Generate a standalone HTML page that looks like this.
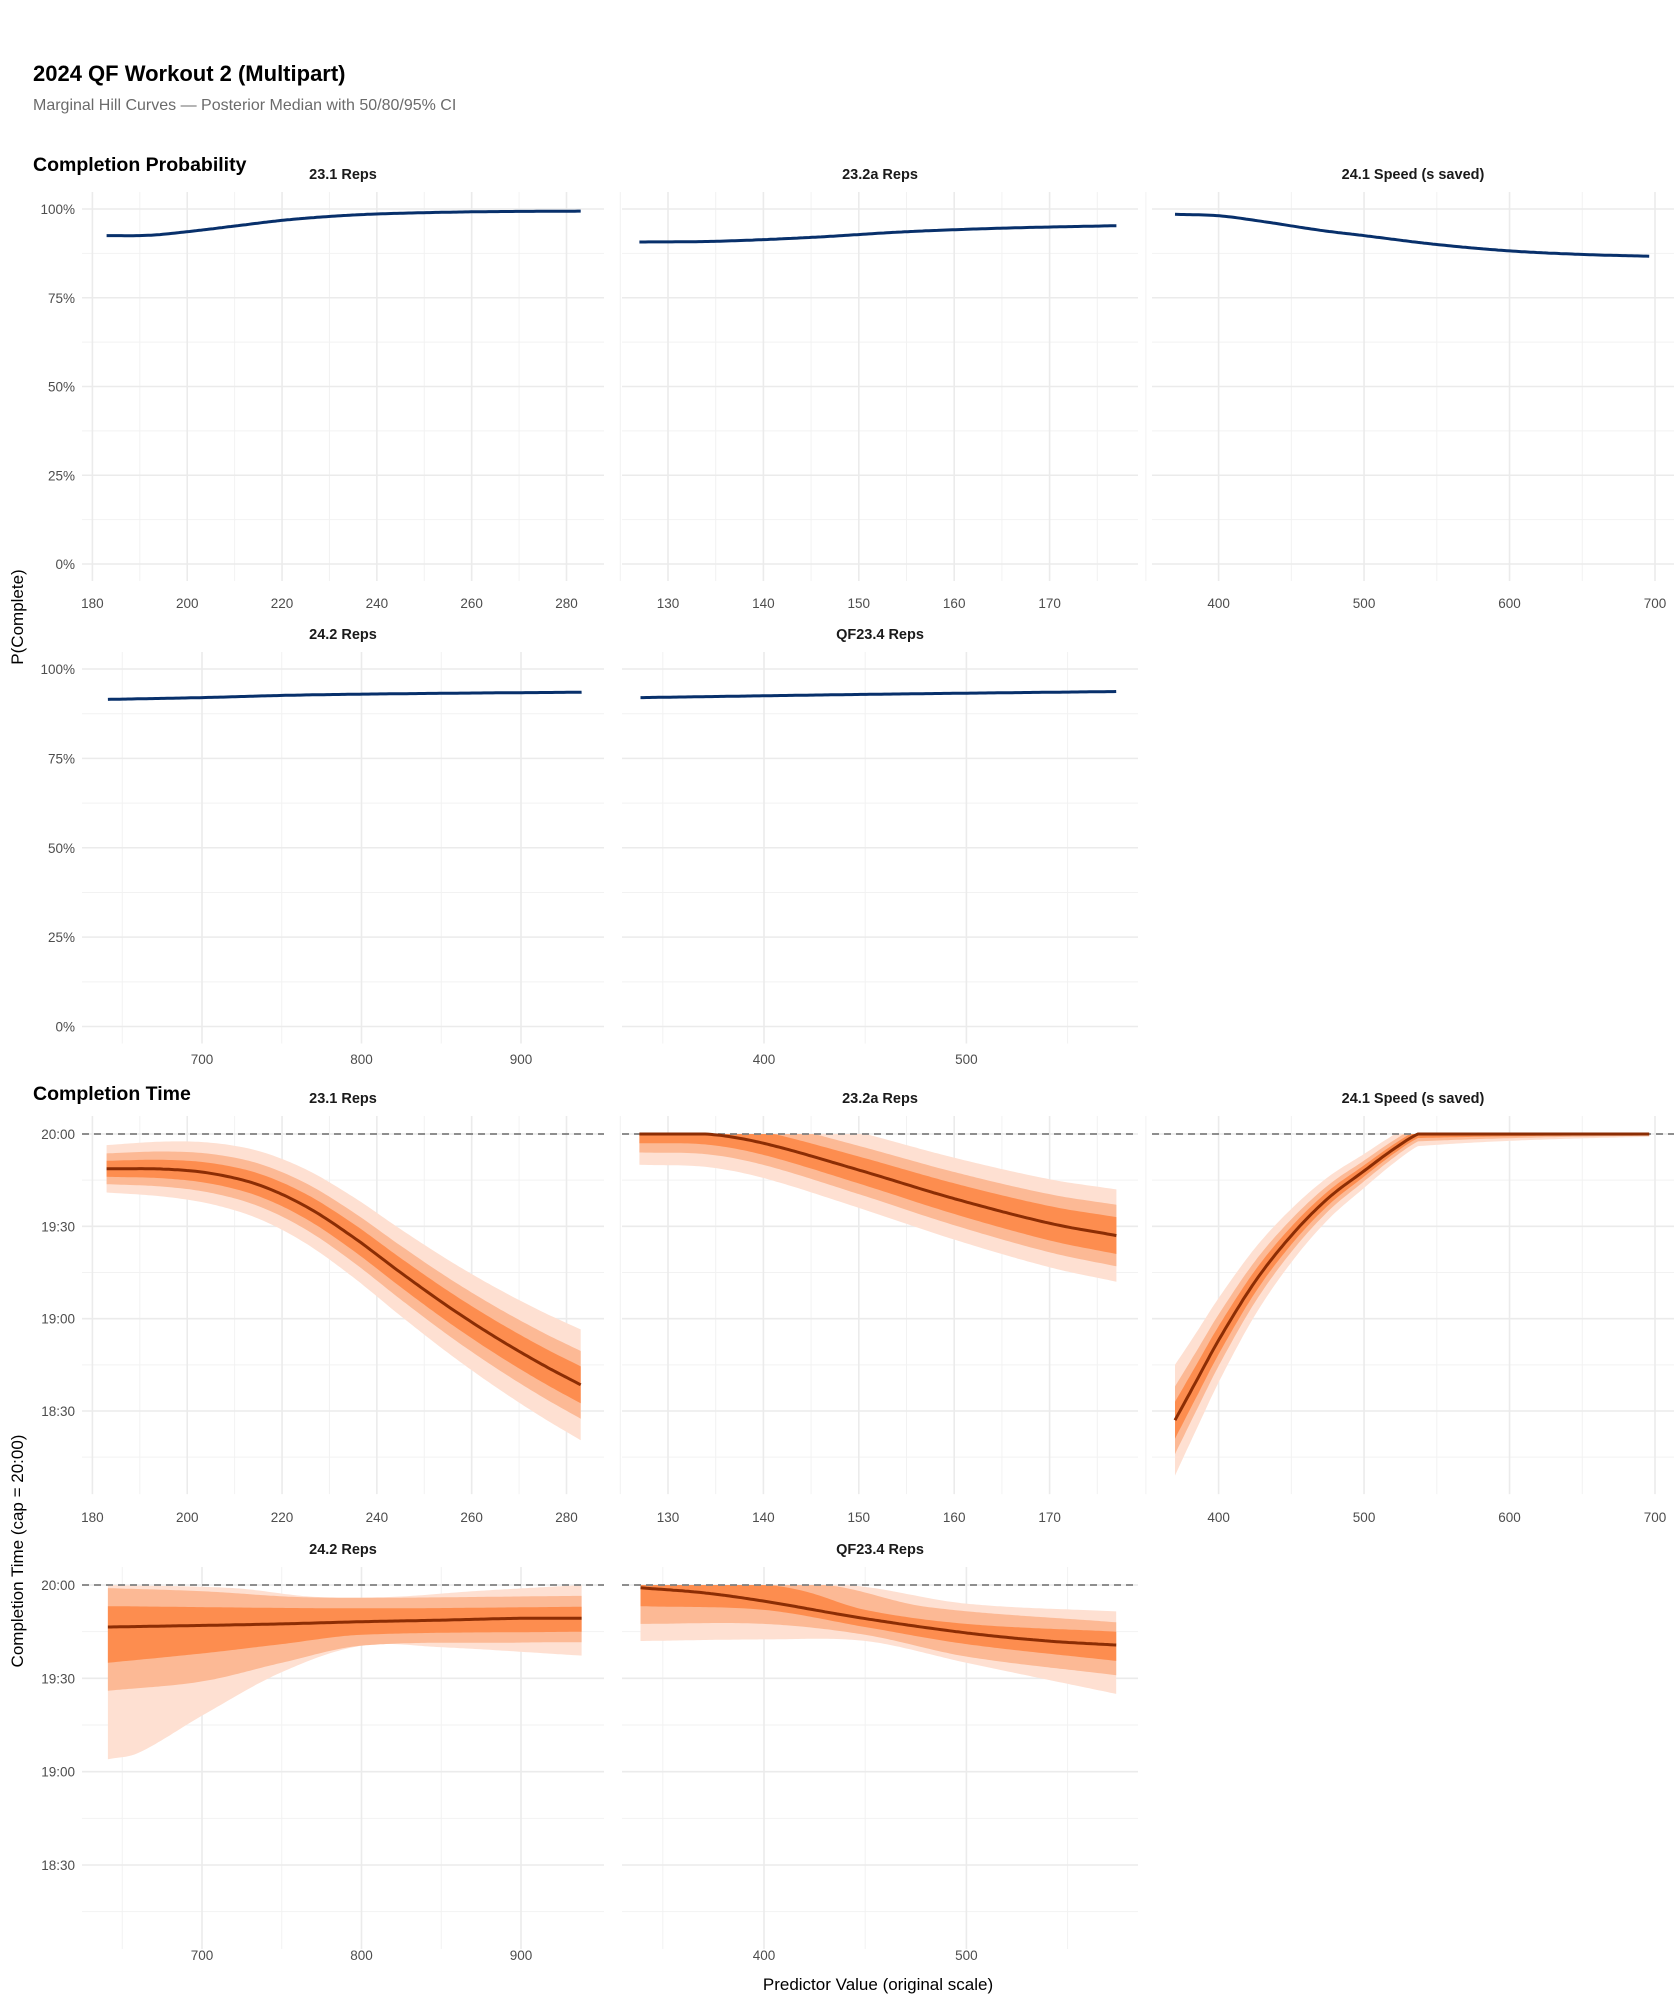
<!DOCTYPE html>
<html><head><meta charset="utf-8"><style>
body{margin:0;background:#fff;}
svg text{font-family:"Liberation Sans",sans-serif;}
</style></head><body>
<svg id="s" width="1677" height="2000" xmlns="http://www.w3.org/2000/svg">
<rect width="1677" height="2000" fill="#fff"/>
<text x="33" y="81" font-size="22" font-weight="bold" fill="#000">2024 QF Workout 2 (Multipart)</text>
<text x="33" y="110" font-size="16" fill="#6b6b6b">Marginal Hill Curves — Posterior Median with 50/80/95% CI</text>
<text x="33" y="171" font-size="19.5" font-weight="bold" fill="#000">Completion Probability</text>
<text x="33" y="1100" font-size="19.5" font-weight="bold" fill="#000">Completion Time</text>
<text transform="translate(23,617) rotate(-90)" text-anchor="middle" font-size="17" fill="#000">P(Complete)</text>
<text transform="translate(23,1551) rotate(-90)" text-anchor="middle" font-size="17" fill="#000">Completion Time (cap = 20:00)</text>
<text x="878" y="1990" text-anchor="middle" font-size="17" fill="#000">Predictor Value (original scale)</text>
<g id="g"></g>
</svg>
<script>
var g=document.getElementById('g');var out='';
function interp(p,x){var n=p.length;if(x<=p[0][0])return p[0][1];if(x>=p[n-1][0])return p[n-1][1];
var i=0;while(p[i+1][0]<x)i++;var x0=p[i][0],x1=p[i+1][0],y0=p[i][1],y1=p[i+1][1],h=x1-x0,t=(x-x0)/h;
function d(k){if(k<=0)return (p[1][1]-p[0][1])/(p[1][0]-p[0][0]);if(k>=n-1)return (p[n-1][1]-p[n-2][1])/(p[n-1][0]-p[n-2][0]);return (p[k+1][1]-p[k-1][1])/(p[k+1][0]-p[k-1][0]);}
var m0=d(i)*h,m1=d(i+1)*h,t2=t*t,t3=t2*t;
return (2*t3-3*t2+1)*y0+(t3-2*t2+t)*m0+(-2*t3+3*t2)*y1+(t3-t2)*m1;}
var cols=[{L:82,R:604,cx:343},{L:622,R:1138,cx:880},{L:1152,R:1674,cx:1413}];
function lin(a,pa,b,pb){return function(v){return pa+(v-a)*(pb-pa)/(b-a);};}
function panel(c,T,B,fx,majX,minX,majY,minY,title,labels,lblY){
 var C=cols[c];
 minY.forEach(function(y){out+='<line x1="'+C.L+'" x2="'+C.R+'" y1="'+y+'" y2="'+y+'" stroke="#f2f2f2" stroke-width="1"/>';});
 minX.forEach(function(v){var x=fx(v);out+='<line y1="'+T+'" y2="'+B+'" x1="'+x+'" x2="'+x+'" stroke="#f2f2f2" stroke-width="1"/>';});
 majY.forEach(function(y){out+='<line x1="'+C.L+'" x2="'+C.R+'" y1="'+y[0]+'" y2="'+y[0]+'" stroke="#ebebeb" stroke-width="1.6"/>';
   if(c==0)out+='<text x="75" y="'+(y[0]+5)+'" text-anchor="end" font-size="13.5" fill="#4d4d4d">'+y[1]+'</text>';});
 majX.forEach(function(v){var x=fx(v);out+='<line y1="'+T+'" y2="'+B+'" x1="'+x+'" x2="'+x+'" stroke="#ebebeb" stroke-width="1.6"/>';
   out+='<text x="'+x+'" y="'+lblY+'" text-anchor="middle" font-size="13.5" fill="#4d4d4d">'+v+'</text>';});
 out+='<text x="'+C.cx+'" y="'+(T-13)+'" text-anchor="middle" font-size="14.5" font-weight="bold" fill="#1a1a1a">'+title+'</text>';
}
function pline(fx,fy,x0,x1,f){var d='';for(var i=0;i<=160;i++){var v=x0+(x1-x0)*i/160;d+=(i?'L':'M')+fx(v).toFixed(1)+','+fy(f(v)).toFixed(1);}return d;}
function band(fx,fy,x0,x1,lo,hi,col){var a=[],b=[];for(var i=0;i<=160;i++){var v=x0+(x1-x0)*i/160;a.push(fx(v).toFixed(1)+','+fy(Math.min(0,hi(v))).toFixed(1));b.unshift(fx(v).toFixed(1)+','+fy(Math.min(0,lo(v))).toFixed(1));}
 out+='<path d="M'+a.join('L')+'L'+b.join('L')+'Z" fill="'+col+'"/>';}
function probRow(c,top100,zero,fx,majX,minX,xr,pts,lblY){
 var fy=lin(100,top100,0,zero);var T=top100-17,B=zero+17;
 var majY=[[fy(100),'100%'],[fy(75),'75%'],[fy(50),'50%'],[fy(25),'25%'],[fy(0),'0%']];
 var minY=[87.5,62.5,37.5,12.5].map(fy);
 panel(c,T,B,fx,majX,minX,majY,minY,pts.title,null,lblY);
 out+='<path d="'+pline(fx,fy,xr[0],xr[1],function(v){return interp(pts.p,v);})+'" fill="none" stroke="#08306b" stroke-width="3"/>';
}
var fx11=lin(180,92.4,280,566.5),fx12=lin(130,668,170,1049.6),fx13=lin(400,1218.6,700,1655),fx21=lin(700,202,900,521),fx22=lin(400,764,500,966.4);
probRow(0,209,564,fx11,[180,200,220,240,260,280],[190,210,230,250,270],[183,283],{title:'23.1 Reps',p:[[183,92.5],[192,92.6],[200,93.6],[210,95.2],[220,96.8],[230,97.9],[240,98.6],[260,99.2],[283,99.4]]},608);
probRow(1,209,564,fx12,[130,140,150,160,170],[125,135,145,155,165,175],[127,177],{title:'23.2a Reps',p:[[127,90.7],[135,90.9],[145,92],[155,93.6],[165,94.6],[177,95.3]]},608);
probRow(2,209,564,fx13,[400,500,600,700],[350,450,550,650],[370,696],{title:'24.1 Speed (s saved)',p:[[370,98.5],[400,98.1],[430,96.5],[470,94],[500,92.5],[550,90],[600,88.2],[650,87.2],[696,86.7]]},608);
probRow(0,669,1026.5,fx21,[700,800,900],[650,750,850],[641,938],{title:'24.2 Reps',p:[[641,91.5],[700,92],[760,92.7],[850,93.2],[938,93.5]]},1064);
probRow(1,669,1026.5,fx22,[400,500],[350,450,550],[339,574],{title:'QF23.4 Reps',p:[[339,92],[450,92.9],[574,93.7]]},1064);
function timeRow(c,zero,s90,fx,majX,minX,xr,title,med,bands,lblY){
 var fy=lin(0,zero,-90,s90);var T=zero-18,B=fy(-117);
 var majY=[[fy(0),'20:00'],[fy(-30),'19:30'],[fy(-60),'19:00'],[fy(-90),'18:30']];
 var minY=[-15,-45,-75,-105].map(fy);
 panel(c,T,B,fx,majX,minX,majY,minY,title,null,lblY);
 var cl=['#fee0d2','#fcb995','#fd8d4f'];
 bands.forEach(function(b,i){band(fx,fy,xr[0],xr[1],b[0],b[1],cl[i]);});
 out+='<line x1="'+cols[c].L+'" x2="'+cols[c].R+'" y1="'+zero+'" y2="'+zero+'" stroke="#7f7f7f" stroke-width="1.8" stroke-dasharray="7,5"/>';
 out+='<path d="'+pline(fx,fy,xr[0],xr[1],function(v){return Math.min(0,med(v));})+'" fill="none" stroke="#8c2d04" stroke-width="3"/>';
}
function P(p){return function(v){return interp(p,v);};}
function hw(m,w0,w1,x0,x1){return [function(v){return m(v)-(w0+(w1-w0)*(v-x0)/(x1-x0));},function(v){return m(v)+(w0+(w1-w0)*(v-x0)/(x1-x0));}];}
var m1=P([[183,-11.3],[195,-11.4],[205,-12.8],[215,-16.5],[225,-23.5],[235,-33.5],[245,-45],[255,-56],[265,-66],[275,-75],[283,-81.5]]);
timeRow(0,1134,1411,fx11,[180,200,220,240,260,280],[190,210,230,250,270],[183,283],'23.1 Reps',m1,[hw(m1,7.7,18,183,283),hw(m1,5,11,183,283),hw(m1,2.6,6,183,283)],1522);
var m2=P([[127,0],[134,0],[140,-3],[150,-11.7],[160,-21],[170,-29],[177,-33]]);
timeRow(1,1134,1411,fx12,[130,140,150,160,170],[125,135,145,155,165,175],[127,177],'23.2a Reps',m2,[hw(m2,10,15,127,177),hw(m2,6,10,127,177),hw(m2,3,6,127,177)],1522);
var m3=P([[370,-93],[385,-80],[400,-67],[425,-48],[450,-33],[475,-21],[500,-12],[520,-5],[537,0],[560,4],[600,6]]);
function ew(a){return [function(v){return Math.min(0,m3(v))-a*Math.exp(-(v-370)/110);},function(v){return m3(v)+a*Math.exp(-(v-370)/110);}];}
timeRow(2,1134,1411,fx13,[400,500,600,700],[350,450,550,650],[370,696],'24.1 Speed (s saved)',m3,[ew(18),ew(11),ew(6)],1522);
var m4=P([[641,-13.5],[700,-13],[750,-12.5],[800,-11.8],[850,-11.3],[900,-10.7],[938,-10.7]]);
timeRow(0,1585,1865,fx21,[700,800,900],[650,750,850],[641,938],'24.2 Reps',m4,[
 [P([[641,-56],[660,-54],[700,-42],[750,-28],[800,-19.5],[850,-20],[938,-22.7]]),P([[641,0],[720,-1],[770,-3.8],[820,-3.8],[870,-2],[938,0]])],
 [P([[641,-34],[700,-31],[750,-25],[800,-19.5],[900,-18.5],[938,-18.4]]),P([[641,-1],[700,-2],[770,-4],[938,-3.5]])],
 [P([[641,-25],[700,-22],[750,-19],[800,-16],[938,-15]]),P([[641,-6.8],[800,-7.5],[938,-7]])]],1960);
var m5=P([[339,-0.9],[370,-2.5],[400,-5.2],[450,-10.8],[500,-15.4],[540,-18],[574,-19.3]]);
timeRow(1,1585,1865,fx22,[400,500],[350,450,550],[339,574],'QF23.4 Reps',m5,[
 [P([[339,-18],[400,-17.5],[450,-18],[500,-25],[574,-35]]),P([[339,0],[440,0],[500,-6],[574,-8.5]])],
 [P([[339,-12.5],[400,-12.5],[450,-16],[500,-23],[574,-29]]),P([[339,0],[430,0],[480,-7],[574,-12]])],
 [P([[339,-6.8],[400,-8],[450,-13.5],[500,-19],[574,-24.4]]),P([[339,0],[400,0],[420,-2],[450,-8],[500,-12.5],[574,-15]])]],1960);
g.innerHTML=out;
</script>
</body></html>
